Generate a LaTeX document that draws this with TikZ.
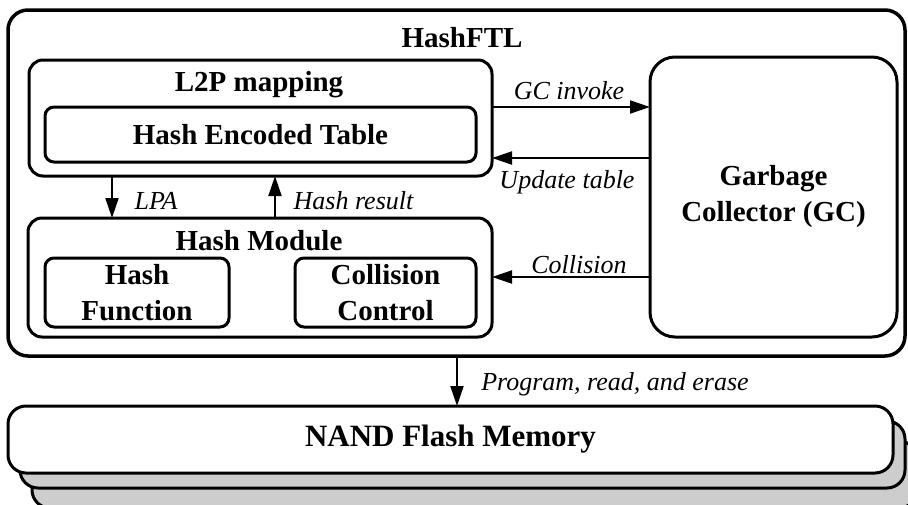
\documentclass[tikz,border=0pt]{standalone}
\usepackage{fontspec}
\setmainfont{Liberation Serif}
\usetikzlibrary{arrows.meta}
\definecolor{layergray}{RGB}{205,205,205}
\begin{document}
\begin{tikzpicture}[x=1pt,y=-1pt,
  box/.style={draw, line width=3pt, rounded corners=#1, inner sep=0pt, outer sep=0pt},
  boldtext/.style={font=\fontsize{29}{36}\selectfont\bfseries, align=center, inner sep=0pt},
  title/.style={font=\fontsize{29}{36}\selectfont\bfseries, anchor=base, inner sep=0pt},
  lbl/.style={font=\fontsize{26}{30}\selectfont\itshape, anchor=base, inner sep=0pt},
  arr/.style={line width=2pt, -{Triangle[length=20pt,width=13pt]}}]
\useasboundingbox (0,0) rectangle (908,504);

% NAND flash stack (back layers first)
\node[box=18pt, fill=layergray, minimum width=885pt, minimum height=67pt] (nand3) at (474.5,474.5) {};
\node[box=18pt, fill=layergray, minimum width=885pt, minimum height=67pt] (nand2) at (462.5,454.5) {};
\node[box=18pt, fill=white, minimum width=885pt, minimum height=67pt,
      font=\fontsize{31}{36}\selectfont\bfseries] (nand) at (450.5,439.5) {NAND Flash Memory};

% HashFTL frame
\node[box=20pt, line width=3.5pt, minimum width=897pt, minimum height=346pt] (ftl) at (456.5,183) {};
\node[title] (ftltitle) at (462,47) {HashFTL};

% L2P mapping
\node[box=14pt, minimum width=463pt, minimum height=116pt] (l2p) at (260.5,118) {};
\node[title] (l2ptitle) at (259,91) {L2P mapping};
\node[box=9pt, boldtext, minimum width=431pt, minimum height=55pt] (het) at (260.5,134.5) {Hash Encoded Table};

% Hash module
\node[box=14pt, minimum width=464pt, minimum height=119pt] (hm) at (260,277.5) {};
\node[title] (hmtitle) at (259,250) {Hash Module};
\node[box=9pt, boldtext, minimum width=184pt, minimum height=69pt] (hf) at (137,292.5) {Hash\\Function};
\node[box=9pt, boldtext, minimum width=181pt, minimum height=69pt] (cc) at (385.5,292.5) {Collision\\Control};

% Garbage collector
\node[box=25pt, boldtext, minimum width=247pt, minimum height=280pt] (gc) at (773.5,197) {Garbage\\Collector (GC)};

% Connectors
\draw[arr] (l2p.east |- 0,107) -- (gc.west |- 0,107);
\draw[arr] (gc.west |- 0,158) -- (l2p.east |- 0,158);
\draw[arr] (gc.west |- 0,277) -- (hm.east |- 0,277);
\draw[arr] (l2p.south -| 112,0) -- (hm.north -| 112,0);
\draw[arr] (hm.north -| 275,0) -- (l2p.south -| 275,0);
\draw[arr] (ftl.south -| 457,0) -- (nand.north -| 457,0);

% Connector labels
\node[lbl] (lgc) at (569,99) {GC invoke};
\node[lbl] (lupd) at (567,188) {Update table};
\node[lbl] (lcol) at (579,273) {Collision};
\node[lbl] (llpa) at (156,209) {LPA};
\node[lbl] (lhr) at (353.5,209) {Hash result};
\node[lbl] (lprog) at (615,390) {Program, read, and erase};
\end{tikzpicture}
\end{document}
